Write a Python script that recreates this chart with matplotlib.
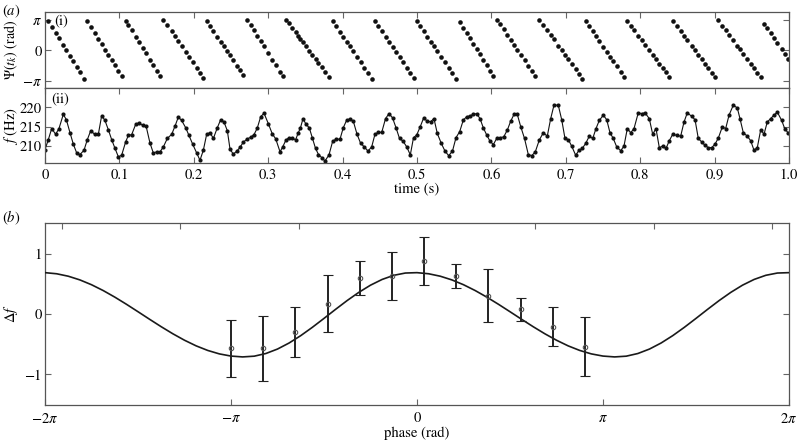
import numpy as np
import matplotlib
matplotlib.use('Agg')
import matplotlib.pyplot as plt
from matplotlib.ticker import FixedLocator

plt.rcParams['font.family'] = ['STIXGeneral', 'DejaVu Serif']
plt.rcParams['mathtext.fontset'] = 'stix'
plt.rcParams['font.size'] = 10.5

# ---------------- data: panel (a) ----------------
# sample times t_k (s)
t_k = [
    0.0000, 0.0045, 0.0090, 0.0143, 0.0188, 0.0246, 0.0287, 0.0336, 0.0381, 0.0426,
    0.0470, 0.0524, 0.0569, 0.0614, 0.0668, 0.0717, 0.0762, 0.0806, 0.0851, 0.0896,
    0.0941, 0.0986, 0.1030, 0.1084, 0.1120, 0.1165, 0.1219, 0.1263, 0.1313, 0.1358,
    0.1411, 0.1456, 0.1501, 0.1546, 0.1591, 0.1644, 0.1703, 0.1747, 0.1792, 0.1837,
    0.1891, 0.1935, 0.1985, 0.2039, 0.2083, 0.2128, 0.2173, 0.2218, 0.2263, 0.2316,
    0.2361, 0.2406, 0.2451,
    0.2487, 0.2531, 0.2585, 0.2621, 0.2665, 0.2719, 0.2765, 0.2809, 0.2853, 0.2899,
    0.2944, 0.3001, 0.3055, 0.3101,
    0.3159, 0.3195, 0.3239, 0.3280, 0.3324, 0.3367, 0.3401, 0.3434, 0.3468, 0.3508,
    0.3552, 0.3595, 0.3636, 0.3676, 0.3719, 0.3763, 0.3817, 0.3867, 0.3915, 0.3965,
    0.4009, 0.4055, 0.4099, 0.4144, 0.4194, 0.4243, 0.4292, 0.4341, 0.4391, 0.4435,
    0.4480, 0.4526, 0.4577, 0.4624, 0.4671, 0.4718, 0.4765, 0.4812, 0.4862, 0.4910,
    0.4953, 0.4996, 0.5044, 0.5090, 0.5138, 0.5184, 0.5228, 0.5273, 0.5327, 0.5376,
    0.5426, 0.5477, 0.5524, 0.5574, 0.5622, 0.5668, 0.5712, 0.5757, 0.5802, 0.5847,
    0.5891, 0.5937, 0.5981, 0.6026, 0.6071, 0.6116, 0.6165, 0.6214, 0.6259, 0.6304,
    0.6348, 0.6394, 0.6445, 0.6496, 0.6542, 0.6590, 0.6644,
    0.6698, 0.6751, 0.6797, 0.6841, 0.6899, 0.6945, 0.6989, 0.7034, 0.7079, 0.7133,
    0.7177, 0.7222, 0.7267, 0.7316, 0.7362, 0.7406, 0.7450,
    0.7504, 0.7550, 0.7594, 0.7638, 0.7684, 0.7738, 0.7782, 0.7827, 0.7872, 0.7917,
    0.7974, 0.8020, 0.8065, 0.8122, 0.8168, 0.8212, 0.8257, 0.8302, 0.8347, 0.8391,
    0.8437, 0.8491, 0.8544, 0.8589, 0.8633, 0.8692, 0.8737, 0.8781, 0.8827, 0.8871,
    0.8915, 0.8961, 0.9005, 0.9050, 0.9103, 0.9149, 0.9194, 0.9251, 0.9305, 0.9341,
    0.9386, 0.9440, 0.9485, 0.9530, 0.9574, 0.9620, 0.9664, 0.9708, 0.9754, 0.9798,
    0.9843, 0.9902, 0.9946, 0.9993,
]

# instantaneous frequency f(t_k) (Hz)
f_k = [
    209.0, 211.6, 214.5, 213.0, 214.5, 218.2, 216.8, 213.4, 210.4, 208.1,
    207.7, 208.8, 211.6, 213.9, 213.0, 213.0, 217.9, 216.6, 214.2, 211.6,
    209.3, 207.1, 207.5, 211.0, 212.7, 212.9, 215.6, 216.0, 215.3, 215.2,
    210.7, 208.1, 208.4, 208.4, 209.7, 211.9, 213.0, 215.1, 217.5, 216.6,
    214.7, 212.7, 210.4, 208.1, 206.2, 208.8, 213.0, 213.4, 211.9, 214.7,
    216.8, 216.2, 213.9,
    209.1, 207.8, 208.7, 209.6, 210.9, 211.8, 212.2, 212.9, 214.6, 217.6,
    218.5, 215.8, 213.1, 211.8,
    208.4, 209.7, 211.5, 212.1, 212.1, 211.5, 213.2, 214.7, 217.1, 215.6,
    214.7, 211.9, 209.3, 207.7, 206.9, 206.0, 207.6, 211.2, 211.7, 211.7,
    214.7, 216.7, 217.0, 216.4, 213.0, 210.6, 209.7, 208.6, 209.7, 213.0,
    213.5, 213.5, 217.1, 218.4, 217.3, 214.7, 211.9, 211.2, 209.7, 207.6,
    212.1, 212.8, 215.0, 217.3, 216.4, 216.3, 217.1, 213.2, 210.6, 208.6,
    207.4, 208.6, 212.1, 213.7, 216.7, 217.6, 217.8, 218.2, 218.4, 217.1,
    214.7, 212.8, 211.2, 210.3, 211.9, 212.1, 212.3, 214.1, 216.4, 218.2,
    218.2, 215.0, 211.9, 207.7, 207.4, 208.4, 211.5,
    213.4, 212.5, 217.1, 220.6, 220.6, 216.8, 211.9, 211.6, 209.9, 207.5,
    208.8, 209.3, 210.6, 212.5, 211.9, 214.5, 216.6,
    218.0, 216.8, 213.4, 211.9, 209.7, 208.7, 209.9, 214.5, 213.4, 214.5,
    218.6, 218.4, 218.6, 217.1, 213.0, 214.5, 209.5, 209.9, 209.3, 211.3,
    213.0, 212.7, 212.5, 216.2, 218.6, 217.7, 216.8, 211.9, 211.0, 210.1,
    209.5, 209.5, 210.4, 212.0, 214.9, 214.5, 218.0, 220.6, 219.9, 217.1,
    213.4, 212.5, 211.3, 208.8, 209.5, 214.2, 213.0, 216.2, 217.1, 218.0,
    218.8, 216.6, 214.3, 213.3,
]

# phase Psi(t_k) in units of pi, one list per sawtooth cycle
psi_lead = [np.nan]
psi_c01 = [0.96, 0.78, 0.57, 0.40, 0.17, 0.01, -0.18, -0.36, -0.53, -0.71, -0.92]
psi_c02 = [0.96, 0.78, 0.57, 0.38, 0.21, 0.03, -0.14, -0.31, -0.49, -0.66, -0.84]
psi_c03 = [0.96, 0.84, 0.66, 0.45, 0.28, 0.08, -0.09, -0.30, -0.48, -0.66, -0.83]
psi_c04 = [0.99, 0.85, 0.64, 0.48, 0.32, 0.16, -0.04, -0.20, -0.37, -0.57, -0.73, -0.89]
psi_c05 = [0.96, 0.80, 0.64, 0.45, 0.29, 0.13, -0.02, -0.15, -0.31, -0.50, -0.63, -0.79]
psi_c06 = [0.99, 0.83, 0.66, 0.49, 0.31, 0.13, -0.09, -0.30, -0.48, -0.71, -0.85]
psi_c07 = [0.99, 0.89, 0.74, 0.60, 0.49, 0.38, 0.27, 0.14, -0.01, -0.15, -0.28, -0.41, -0.55, -0.70, -0.88]
psi_c08 = [0.96, 0.79, 0.61, 0.45, 0.29, 0.13, -0.03, -0.21, -0.39, -0.56, -0.74, -0.92]
psi_c09 = [0.96, 0.80, 0.64, 0.45, 0.29, 0.12, -0.05, -0.22, -0.39, -0.57, -0.74, -0.89]
psi_c10 = [0.96, 0.79, 0.63, 0.45, 0.29, 0.13, -0.02, -0.22, -0.39, -0.57, -0.75, -0.92]
psi_c11 = [0.94, 0.75, 0.57, 0.40, 0.22, 0.04, -0.13, -0.30, -0.48, -0.66, -0.83]
psi_c12 = [0.99, 0.88, 0.70, 0.52, 0.35, 0.19, 0.03, -0.14, -0.32, -0.51, -0.68, -0.85]
psi_c13 = [0.99, 0.84, 0.66, 0.51, 0.36, 0.16, 0.01, -0.14, -0.29, -0.44, -0.62, -0.77, -0.92]
psi_c14 = [0.96, 0.79, 0.63, 0.47, 0.31, 0.12, -0.04, -0.20, -0.36, -0.52, -0.71, -0.87]
psi_c15 = [0.96, 0.81, 0.67, 0.48, 0.34, 0.19, 0.01, -0.14, -0.28, -0.43, -0.57, -0.72, -0.86]
psi_c16 = [0.98, 0.81, 0.63, 0.49, 0.34, 0.15, 0.01, -0.14, -0.29, -0.43, -0.58, -0.73, -0.87]
psi_c17 = [0.99, 0.81, 0.67, 0.52, 0.33, 0.15, 0.04, -0.11, -0.29, -0.43, -0.58, -0.73, -0.88]
psi_c18 = [0.88, 0.74, 0.58, 0.40, 0.24, 0.05, -0.12, -0.28]

time_ticks = [0, 0.1, 0.2, 0.3, 0.4, 0.5, 0.6, 0.7, 0.8, 0.9, 1.0]
time_labels = ['0', '0.1', '0.2', '0.3', '0.4', '0.5', '0.6', '0.7', '0.8', '0.9', '1.0']

# ---------------- data: panel (b) ----------------
bin_phase_over_pi = [-1.0, -0.828, -0.656, -0.478, -0.308, -0.134, 0.038, 0.212, 0.382, 0.557, 0.730, 0.905]
bin_df = [-0.57, -0.57, -0.30, 0.17, 0.59, 0.63, 0.88, 0.63, 0.30, 0.08, -0.21, -0.54]
bin_err = [0.47, 0.53, 0.41, 0.47, 0.28, 0.40, 0.40, 0.20, 0.44, 0.19, 0.32, 0.49]

# fitted curve, sampled every pi/16
fit_phase_over_pi = [
    -2.0, -1.9375, -1.875, -1.8125, -1.75, -1.6875, -1.625, -1.5625,
    -1.5, -1.4375, -1.375, -1.3125, -1.25, -1.1875, -1.125, -1.0625,
    -1.0, -0.9375, -0.875, -0.8125, -0.75, -0.6875, -0.625, -0.5625,
    -0.5, -0.4375, -0.375, -0.3125, -0.25, -0.1875, -0.125, -0.0625,
    0.0, 0.0625, 0.125, 0.1875, 0.25, 0.3125, 0.375, 0.4375,
    0.5, 0.5625, 0.625, 0.6875, 0.75, 0.8125, 0.875, 0.9375,
    1.0, 1.0625, 1.125, 1.1875, 1.25, 1.3125, 1.375, 1.4375,
    1.5, 1.5625, 1.625, 1.6875, 1.75, 1.8125, 1.875, 1.9375, 2.0]
fit_df = [
    0.6838, 0.6654, 0.6250, 0.5639, 0.4842, 0.3884, 0.2797, 0.1616,
    0.0377, -0.0877, -0.2107, -0.3273, -0.4338, -0.5268, -0.6027, -0.6598,
    -0.6958, -0.7098, -0.6975, -0.6534, -0.5796, -0.4795, -0.3577, -0.2200,
    -0.0727, 0.0776, 0.2236, 0.3585, 0.4766, 0.5716, 0.6397, 0.6775,
    0.6838, 0.6654, 0.6250, 0.5639, 0.4842, 0.3884, 0.2797, 0.1616,
    0.0377, -0.0877, -0.2107, -0.3273, -0.4338, -0.5268, -0.6027, -0.6598,
    -0.6958, -0.7098, -0.6975, -0.6534, -0.5796, -0.4795, -0.3577, -0.2200,
    -0.0727, 0.0776, 0.2236, 0.3585, 0.4766, 0.5716, 0.6397, 0.6775, 0.6838]

# ---------------- assemble ----------------
psi_all = (psi_lead + psi_c01 + psi_c02 + psi_c03 + psi_c04 + psi_c05 + psi_c06 + psi_c07
           + psi_c08 + psi_c09 + psi_c10 + psi_c11 + psi_c12 + psi_c13 + psi_c14 + psi_c15
           + psi_c16 + psi_c17 + psi_c18)
n1 = min(len(t_k), len(psi_all))
n2 = min(len(t_k), len(f_k))
t_arr = np.array(t_k)
psi_arr = np.array(psi_all[:n1]) * np.pi

fig = plt.figure(figsize=(7.99, 4.46), dpi=100)
L, W = 0.05632, 0.93116
ax1 = fig.add_axes([L, 0.80269, W, 0.17040])
ax2 = fig.add_axes([L, 0.63386, W, 0.16883])
ax3 = fig.add_axes([L, 0.09260, W, 0.40673])

spine_c = '#555555'
tick_c = '#666666'
for ax in (ax1, ax2, ax3):
    for s in ax.spines.values():
        s.set_color(spine_c)
        s.set_linewidth(0.9)
    ax.tick_params(which='both', direction='in', length=4.5, width=0.8, color=tick_c,
                   labelsize=10.5)
    ax.tick_params(axis='y', pad=2.5)
    ax.tick_params(axis='x', pad=3.5)

ylab_x = -0.033

# panel (i)
ax1.plot(t_arr[:n1], psi_arr, 'o', color='#111111', ms=3.3, mew=0, clip_on=True)
ax1.set_xlim(0, 1)
ax1.set_ylim(-1.23 * np.pi, 1.26 * np.pi)
ax1.set_xticks(time_ticks)
ax1.tick_params(axis='x', bottom=False, top=True, labelbottom=False)
ax1.set_yticks([-np.pi, 0, np.pi])
ax1.set_yticklabels([r'$-\pi$', '0', r'$\pi$'])
ax1.tick_params(axis='y', left=True, right=True)
ax1.set_ylabel(r'$\mathit{\Psi}(t_k)$ (rad)', fontsize=10)
ax1.yaxis.set_label_coords(ylab_x, 0.5)
ax1.text(0.013, 0.885, '(i)', transform=ax1.transAxes, va='center', ha='left')

# panel (ii)
ax2.plot(t_arr[:n2], np.array(f_k[:n2]), '-o', color='#111111', ms=3.0, mew=0, lw=0.8)
ax2.set_xlim(0, 1)
ax2.set_ylim(205.4, 225.1)
ax2.set_xticks(time_ticks)
ax2.set_xticklabels(time_labels)
ax2.tick_params(axis='x', bottom=True, top=True)
ax2.set_yticks([210, 215, 220])
ax2.tick_params(axis='y', left=True, right=True)
ax2.set_ylabel(r'$f$ (Hz)')
ax2.yaxis.set_label_coords(ylab_x, 0.5)
ax2.set_xlabel('time (s)')
ax2.xaxis.set_label_coords(0.5, -0.335)
ax2.xaxis.label.set_va('center')
ax2.text(0.009, 0.863, '(ii)', transform=ax2.transAxes, va='center', ha='left')

# panel (b)
ax3.plot(np.array(fit_phase_over_pi) * np.pi, fit_df, '-', color='#1a1a1a', lw=1.2, zorder=3)
ax3.errorbar(np.array(bin_phase_over_pi) * np.pi, bin_df, yerr=bin_err, fmt='o',
             mfc='none', mec='#555555', mew=0.8, ms=3.2, ecolor='#222222',
             elinewidth=1.4, capsize=3.6, capthick=1.4, zorder=4)
ax3.set_xlim(-2 * np.pi, 2 * np.pi)
ax3.set_ylim(-1.5, 1.5)
ax3.set_xticks([-2 * np.pi, -np.pi, 0, np.pi, 2 * np.pi])
ax3.set_xticklabels([r'$-2\pi$', r'$-\pi$', '0', r'$\pi$', r'$2\pi$'])
ax3.xaxis.set_minor_locator(FixedLocator([-6, -4, -2, 0, 2, 4, 6]))
ax3.tick_params(axis='x', which='major', bottom=True, top=False, pad=5)
ax3.tick_params(axis='x', which='minor', bottom=False, top=True, length=4.5)
ax3.set_yticks([-1, 0, 1])
ax3.tick_params(axis='y', left=True, right=True)
ax3.set_ylabel(r'$\Delta f$')
ax3.yaxis.set_label_coords(ylab_x, 0.5)
ax3.set_xlabel('phase (rad)')
ax3.xaxis.set_label_coords(0.5, -0.16)
ax3.xaxis.label.set_va('center')

fig.text(0.003, 1 - 11 / 446, r'($a$)', va='center', ha='left', fontsize=10.5)
fig.text(0.003, 1 - 218 / 446, r'($b$)', va='center', ha='left', fontsize=10.5)

fig.savefig('out.png', dpi=100)
